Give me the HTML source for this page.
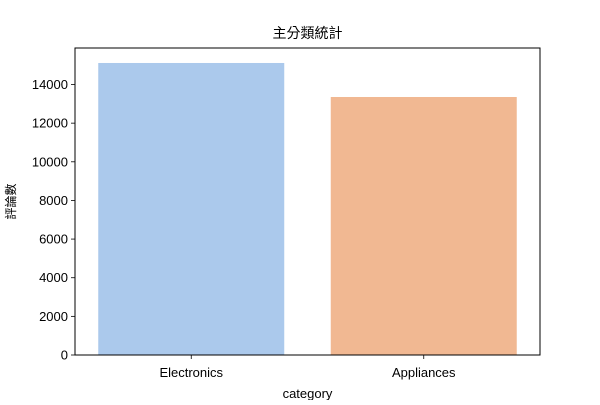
<!DOCTYPE html>
<html><head><meta charset="utf-8"><style>
body{margin:0;background:#fff;}
svg text{font-family:"Liberation Sans","Noto Sans CJK TC",sans-serif;fill:#000;}
</style></head><body>
<svg id="chart" width="600" height="400"></svg>
<script>
const categories=["Electronics","Appliances"];
const counts=[15114,13354];
const colors=["#abc9ec","#f1b892"];
const yTicks=[0,2000,4000,6000,8000,10000,12000,14000];
const svg=document.getElementById('chart');
const NS='http://www.w3.org/2000/svg';
const L=75,R=540,T=48,B=355;
const yMax=15890;
function y(v){return B-(v/yMax)*(B-T);}
const step=(R-L)/categories.length;
function xc(i){return L+step*(i+0.5);}
function mk(tag,attrs,txt){const e=document.createElementNS(NS,tag);for(const k in attrs)e.setAttribute(k,attrs[k]);if(txt!==undefined)e.textContent=txt;svg.appendChild(e);return e;}
categories.forEach((c,i)=>{
  const w=step*0.8;
  const r=mk('rect',{x:xc(i)-w/2,y:y(counts[i]),width:w,height:B-y(counts[i]),fill:colors[i]});
  
  
  mk('line',{x1:xc(i),x2:xc(i),y1:B,y2:B+4,stroke:'#000','stroke-width':0.8});
  const t=mk('text',{x:xc(i),y:B+22,'text-anchor':'middle','font-size':13},c);
  
  
});
yTicks.forEach(v=>{
  mk('line',{x1:L-4,x2:L,y1:y(v),y2:y(v),stroke:'#000','stroke-width':0.8});
  const t=mk('text',{x:L-7,y:y(v)+4.5,'text-anchor':'end','font-size':13},String(v));
  
  
});
const fr=mk('rect',{x:L,y:T,width:R-L,height:B-T,fill:'none',stroke:'#000','stroke-width':1});


const ti=mk('text',{x:(L+R)/2,y:38,'text-anchor':'middle','font-size':14},'主分類統計');


const xl=mk('text',{x:(L+R)/2,y:398,'text-anchor':'middle','font-size':13},'category');


const yl=mk('text',{x:0,y:0,'text-anchor':'middle','font-size':12,transform:'translate(15,'+((T+B)/2)+') rotate(-90)'},'評論數');


</script>
</body></html>
